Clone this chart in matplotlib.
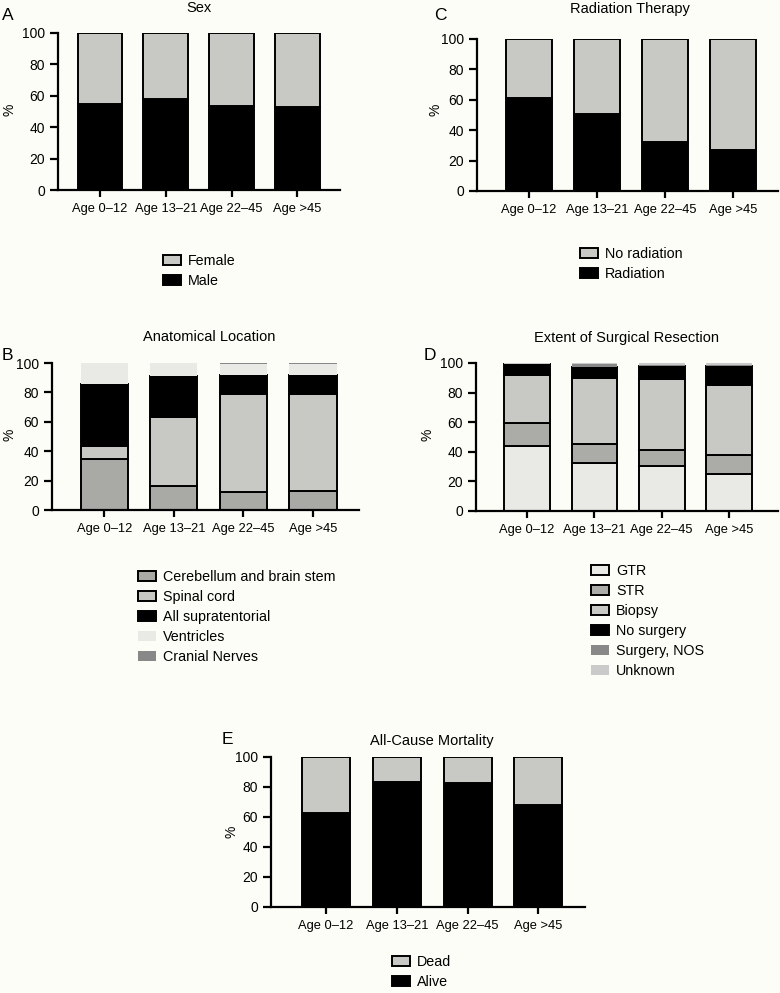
import numpy as np
import matplotlib.pyplot as plt

plt.rcParams['font.family'] = ['Liberation Sans', 'DejaVu Sans']

W, H = 780, 993
ages = ["Age 0\u201312", "Age 13\u201321", "Age 22\u201345", "Age >45"]

# A - sex
male = [54.7, 58.1, 53.8, 52.6]
female = [45.3, 41.9, 46.2, 47.4]

# C - radiation therapy
radiation = [61.5, 50.8, 32.1, 27.0]
no_radiation = [38.5, 49.2, 67.9, 73.0]

# B - anatomical location
cerebellum = [34.4, 16.3, 12.0, 13.1]
spinal = [9.0, 47.3, 66.7, 65.6]
supratent = [42.6, 27.8, 13.2, 13.2]
ventricles = [14.0, 8.4, 7.5, 7.5]
cranial = [0.0, 0.2, 0.6, 0.6]

# D - extent of resection
gtr = [44.1, 32.7, 30.4, 25.2]
strr = [15.6, 12.8, 10.6, 12.4]
biopsy = [32.0, 44.4, 48.4, 47.3]
no_surgery = [7.6, 7.6, 8.6, 13.1]
surgery_nos = [0.3, 1.5, 0.8, 0.8]
unknown = [0.4, 1.0, 1.2, 1.2]

# E - mortality
alive = [62.7, 83.3, 82.9, 68.2]
dead = [37.3, 16.7, 17.1, 31.8]

BG = '#fdfdf8'
fig = plt.figure(figsize=(W / 100, H / 100), dpi=100, facecolor=BG)


def panel(left, right, top, bottom, x0, x1):
    ax = fig.add_axes([left / W, 1 - bottom / H, (right - left) / W, (bottom - top) / H])
    ax.set_facecolor('none')
    ax.set_xlim(x0, x1)
    ax.set_ylim(0, 100)
    for s in ['top', 'right']:
        ax.spines[s].set_visible(False)
    for s in ['left', 'bottom']:
        ax.spines[s].set_linewidth(1.6)
    ax.set_yticks(range(0, 101, 20))
    ax.set_xticks(range(len(ages)))
    ax.set_xticklabels(ages, fontsize=9.3)
    ax.tick_params(axis='y', labelsize=10, length=5.5, width=1.6, pad=4)
    ax.tick_params(axis='x', length=5, width=1.6, pad=4.5)
    return ax


def stack(ax, series, colors, edges, width=0.68):
    x = np.arange(len(ages))
    bottom = np.zeros(len(ages))
    handles = []
    for vals, c, e in zip(series, colors, edges):
        b = ax.bar(x, vals, width=width, bottom=bottom, color=c,
                   edgecolor=e, linewidth=1.4 if e != 'none' else 0)
        handles.append(b)
        bottom = bottom + np.array(vals)
    return handles


def legend(handles, labels, x, y):
    fig.legend(handles, labels, loc='upper left',
               bbox_to_anchor=(x / W, 1 - y / H), frameon=False,
               fontsize=10.3, handlelength=1.25, handleheight=0.75,
               handletextpad=0.5, labelspacing=0.42, borderpad=0,
               borderaxespad=0)


def label(x, y, letter, title, tx, ty, px, py):
    fig.text(x / W, 1 - y / H, letter, fontsize=12.5, ha='left', va='center')
    fig.text(tx / W, 1 - ty / H, title, fontsize=10.5, ha='center', va='center')
    fig.text(px / W, 1 - py / H, '%', fontsize=10, ha='center', va='center', rotation=90)


GRAY = '#c8c9c4'
BLACK = '#000000'

# A
ax = panel(58, 340, 33, 190, -0.64, 3.65)
h = stack(ax, [male, female], [BLACK, GRAY], ['k', 'k'])
label(2, 15, 'A', 'Sex', 199, 8, 9, 110)
legend([h[1], h[0]], ['Female', 'Male'], 163, 254)

# C
ax = panel(477, 778, 39, 191, -0.76, 3.66)
h = stack(ax, [radiation, no_radiation], [BLACK, GRAY], ['k', 'k'])
label(434, 15, 'C', 'Radiation Therapy', 630, 9, 435, 110)
legend([h[1], h[0]], ['No radiation', 'Radiation'], 580, 247)

# B
ax = panel(52, 359, 363, 510, -0.75, 3.66)
h = stack(ax, [cerebellum, spinal, supratent, ventricles, cranial],
          ['#a9aaa5', GRAY, BLACK, '#e9e9e5', '#888888'],
          ['k', 'k', 'k', 'none', 'none'])
label(2, 355, 'B', 'Anatomical Location', 209, 337, 9, 435)
legend(h, ['Cerebellum and brain stem', 'Spinal cord', 'All supratentorial',
           'Ventricles', 'Cranial Nerves'], 138, 570)

# D
ax = panel(476, 778, 363, 511, -0.76, 3.73)
h = stack(ax, [gtr, strr, biopsy, no_surgery, surgery_nos, unknown],
          ['#e9eae6', '#abaca7', GRAY, BLACK, '#888888', '#cacaca'],
          ['k', 'k', 'k', 'k', 'none', 'none'])
label(424, 355, 'D', 'Extent of Surgical Resection', 627, 338, 427, 435)
legend(h, ['GTR', 'STR', 'Biopsy', 'No surgery', 'Surgery, NOS', 'Unknown'], 591, 564)

# E
ax = panel(271, 585, 757, 907, -0.78, 3.66)
h = stack(ax, [alive, dead], [BLACK, GRAY], ['k', 'k'])
label(222, 739, 'E', 'All-Cause Mortality', 432, 741, 232, 832)
legend([h[1], h[0]], ['Dead', 'Alive'], 392, 955)

fig.savefig('out.png', dpi=100, facecolor=BG)
